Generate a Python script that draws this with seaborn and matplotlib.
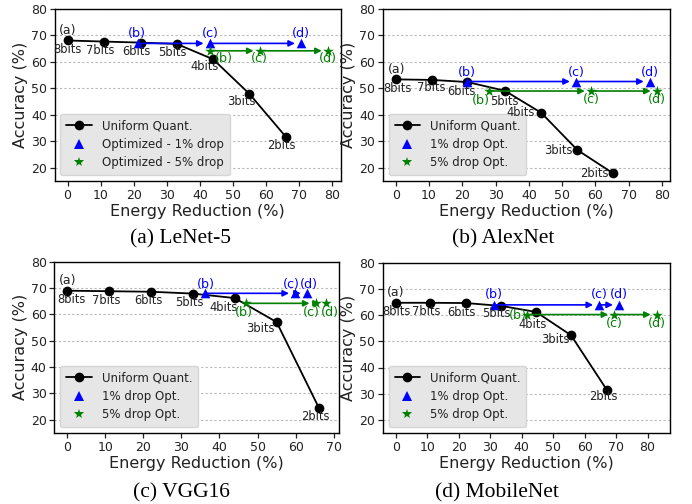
import matplotlib
matplotlib.use("Agg")
import matplotlib.pyplot as plt
from matplotlib.lines import Line2D
import seaborn as sns
import pandas as pd

# ---------------- data ----------------
bit_labels = ["8bits", "7bits", "6bits", "5bits", "4bits", "3bits", "2bits"]
opt_labels = ["(b)", "(c)", "(d)"]

lenet_energy = [0, 10.9, 22.1, 33.0, 44.0, 54.9, 65.9]
lenet_acc = [68.1, 67.7, 67.3, 66.8, 61.0, 48.0, 31.8]
lenet_opt1_energy = [21.4, 43.0, 70.6]
lenet_opt1_acc = [67.0, 67.0, 67.0]
lenet_opt5_energy = [43.2, 58.1, 78.7]
lenet_opt5_acc = [64.2, 64.2, 64.2]

alex_energy = [0, 10.9, 21.5, 32.8, 43.7, 54.6, 65.2]
alex_acc = [53.4, 53.2, 52.4, 49.1, 40.8, 26.7, 18.0]
alex_opt1_energy = [21.5, 54.2, 76.4]
alex_opt1_acc = [52.6, 52.6, 52.6]
alex_opt5_energy = [27.9, 58.7, 78.5]
alex_opt5_acc = [49.0, 49.0, 49.0]

vgg_energy = [0, 11.0, 22.0, 33.0, 44.0, 55.0, 66.2]
vgg_acc = [69.0, 68.8, 68.6, 67.9, 66.2, 57.1, 24.3]
vgg_opt1_energy = [36.3, 59.9, 63.0]
vgg_opt1_acc = [68.0, 68.0, 68.0]
vgg_opt5_energy = [47.0, 65.3, 68.0]
vgg_opt5_acc = [64.2, 64.2, 64.2]

mobile_energy = [0, 11.0, 22.3, 33.5, 44.6, 55.7, 67.0]
mobile_acc = [64.7, 64.7, 64.6, 63.5, 61.2, 52.3, 31.6]
mobile_opt1_energy = [31.3, 64.7, 71.0]
mobile_opt1_acc = [63.9, 63.9, 63.9]
mobile_opt5_energy = [41.8, 69.5, 83.0]
mobile_opt5_acc = [60.2, 60.2, 60.2]

captions = ["(a) LeNet-5", "(b) AlexNet", "(c) VGG16", "(d) MobileNet"]
legend_uniform = "Uniform Quant."
legend_opt1 = ["Optimized - 1% drop", "1% drop Opt.", "1% drop Opt.", "1% drop Opt."]
legend_opt5 = ["Optimized - 5% drop", "5% drop Opt.", "5% drop Opt.", "5% drop Opt."]
x_label = "Energy Reduction (%)"
y_label = "Accuracy (%)"

# ---------------- style ----------------
sns.set_theme(style="white")
plt.rcParams["font.family"] = ["DejaVu Sans"]
plt.rcParams["axes.edgecolor"] = "black"
plt.rcParams["axes.linewidth"] = 1.0

W, H = 692, 504
fig = plt.figure(figsize=(W / 100, H / 100), dpi=100)


def rect(l, r, t, b):
    return [l / W, (H - b) / H, (r - l) / W, (b - t) / H]


panels = [
    dict(rect=rect(54.5, 341, 9, 181), e=lenet_energy, a=lenet_acc,
         o1e=lenet_opt1_energy, o1a=lenet_opt1_acc, o5e=lenet_opt5_energy, o5a=lenet_opt5_acc,
         xt=range(0, 81, 10),
         bit_off=[(0, -9), (-3, -9), (-4, -9), (-4, -9), (-9, -7), (-8, -8), (-4, -9)],
         a_off=(0, 10),
         o1_off=[(-1, 10), (0, 10), (0, 10)],
         o5_off=[(13, -8), (0, -8), (0, -8)]),
    dict(rect=rect(382.7, 670, 9, 181), e=alex_energy, a=alex_acc,
         o1e=alex_opt1_energy, o1a=alex_opt1_acc, o5e=alex_opt5_energy, o5a=alex_opt5_acc,
         xt=range(0, 81, 10),
         bit_off=[(2, -9), (-1, -8), (-6, -9), (-1, -11), (-21, 0), (-19, 0), (-18, 0)],
         a_off=(1, 10),
         o1_off=[(0, 9), (0, 9), (0, 9)],
         o5_off=[(-8, -9), (0, -8), (0, -8)]),
    dict(rect=rect(54.3, 339, 261.7, 433), e=vgg_energy, a=vgg_acc,
         o1e=vgg_opt1_energy, o1a=vgg_opt1_acc, o5e=vgg_opt5_energy, o5a=vgg_opt5_acc,
         xt=range(0, 71, 10),
         bit_off=[(4, -9), (-3, -9), (-3, -9), (-3, -9), (-11, -9), (-16, -6), (-4, -8)],
         a_off=(0, 10),
         o1_off=[(0, 9), (-4, 9), (2, 9)],
         o5_off=[(-2, -9), (-4, -9), (4, -9)]),
    dict(rect=rect(382.7, 670, 262.7, 433), e=mobile_energy, a=mobile_acc,
         o1e=mobile_opt1_energy, o1a=mobile_opt1_acc, o5e=mobile_opt5_energy, o5a=mobile_opt5_acc,
         xt=range(0, 81, 10),
         bit_off=[(1, -9), (-4, -9), (-4, -9), (-5, -8), (-3, -13), (-16, -4), (-3, -7)],
         a_off=(0, 10),
         o1_off=[(0, 10), (0, 10), (0, 10)],
         o5_off=[(-9, -1), (0, -9), (0, -9)]),
]

BLUE = "#0000ff"
GREEN = "#008000"
ANN = 8.3

for i, p in enumerate(panels):
    ax = fig.add_axes(p["rect"])
    ax.yaxis.grid(True, linestyle=(0, (2, 2)), color="#b8b8b8", linewidth=0.8)
    ax.set_axisbelow(True)

    df_u = pd.DataFrame({"energy": p["e"], "acc": p["a"]})
    sns.lineplot(data=df_u, x="energy", y="acc", ax=ax, color="black", marker="o",
                 markersize=7, markeredgewidth=0, linewidth=1.3, zorder=3, sort=False)

    # arrows between optimized points
    for xs, ys, col in [(p["o1e"], p["o1a"], BLUE), (p["o5e"], p["o5a"], GREEN)]:
        for k in range(len(xs) - 1):
            ax.annotate("", xy=(xs[k + 1], ys[k + 1]), xytext=(xs[k], ys[k]),
                        arrowprops=dict(arrowstyle="-|>", color=col, lw=1.2,
                                        shrinkA=0, shrinkB=4.5, mutation_scale=9),
                        zorder=4)

    df1 = pd.DataFrame({"energy": p["o1e"], "acc": p["o1a"]})
    df5 = pd.DataFrame({"energy": p["o5e"], "acc": p["o5a"]})
    sns.scatterplot(data=df1, x="energy", y="acc", ax=ax, color=BLUE, marker="^",
                    s=48, linewidth=0, zorder=5)
    sns.scatterplot(data=df5, x="energy", y="acc", ax=ax, color=GREEN, marker="*",
                    s=65, linewidth=0, zorder=5)

    # annotations
    ax.annotate("(a)", xy=(p["e"][0], p["a"][0]), xytext=p["a_off"], textcoords="offset pixels",
                ha="center", va="center", fontsize=9, color="#222222")
    for lbl, x, y, off in zip(bit_labels, p["e"], p["a"], p["bit_off"]):
        ax.annotate(lbl, xy=(x, y), xytext=off, textcoords="offset pixels",
                    ha="center", va="center", fontsize=ANN, color="#222222", zorder=6)
    for lbl, x, y, off in zip(opt_labels, p["o1e"], p["o1a"], p["o1_off"]):
        ax.annotate(lbl, xy=(x, y), xytext=off, textcoords="offset pixels",
                    ha="center", va="center", fontsize=9.2, color=BLUE, zorder=6)
    for lbl, x, y, off in zip(opt_labels, p["o5e"], p["o5a"], p["o5_off"]):
        ax.annotate(lbl, xy=(x, y), xytext=off, textcoords="offset pixels",
                    ha="center", va="center", fontsize=9.2, color=GREEN, zorder=6)

    ax.set_ylim(15, 80)
    ax.set_yticks(range(20, 81, 10))
    ax.set_xticks(list(p["xt"]))
    ax.tick_params(axis="both", which="major", labelsize=9, length=3.5, width=0.9,
                   direction="out", bottom=True, left=True, colors="#222222", pad=2)
    ax.set_xlabel(x_label, fontsize=11.5, labelpad=2, color="#222222")
    ax.set_ylabel(y_label, fontsize=11.5, labelpad=2, color="#222222")
    for s in ax.spines.values():
        s.set_visible(True)
        s.set_color("black")
        s.set_linewidth(1.0)

    handles = [
        Line2D([], [], color="black", marker="o", markersize=7, markeredgewidth=0, lw=1.3,
               label=legend_uniform),
        Line2D([], [], color=BLUE, marker="^", markersize=6.5, markeredgewidth=0, lw=0,
               label=legend_opt1[i]),
        Line2D([], [], color=GREEN, marker="*", markersize=7.5, markeredgewidth=0, lw=0,
               label=legend_opt5[i]),
    ]
    leg = ax.legend(handles=handles, loc="lower left", fontsize=8.5, frameon=True,
                    fancybox=True, framealpha=1, handlelength=2.2, borderpad=0.5,
                    labelspacing=0.45)
    leg.get_frame().set_facecolor("#e6e6e6")
    leg.get_frame().set_edgecolor("#d6d6d6")
    for t in leg.get_texts():
        t.set_color("#222222")

cap_pos = [(180, 239), (503, 239), (181, 493), (497, 493)]
for txt, (cx, cy) in zip(captions, cap_pos):
    fig.text(cx / W, (H - cy) / H, txt, ha="center", va="center",
             fontsize=15.5, family="Liberation Serif", color="black")

fig.savefig("out.png", dpi=100)
